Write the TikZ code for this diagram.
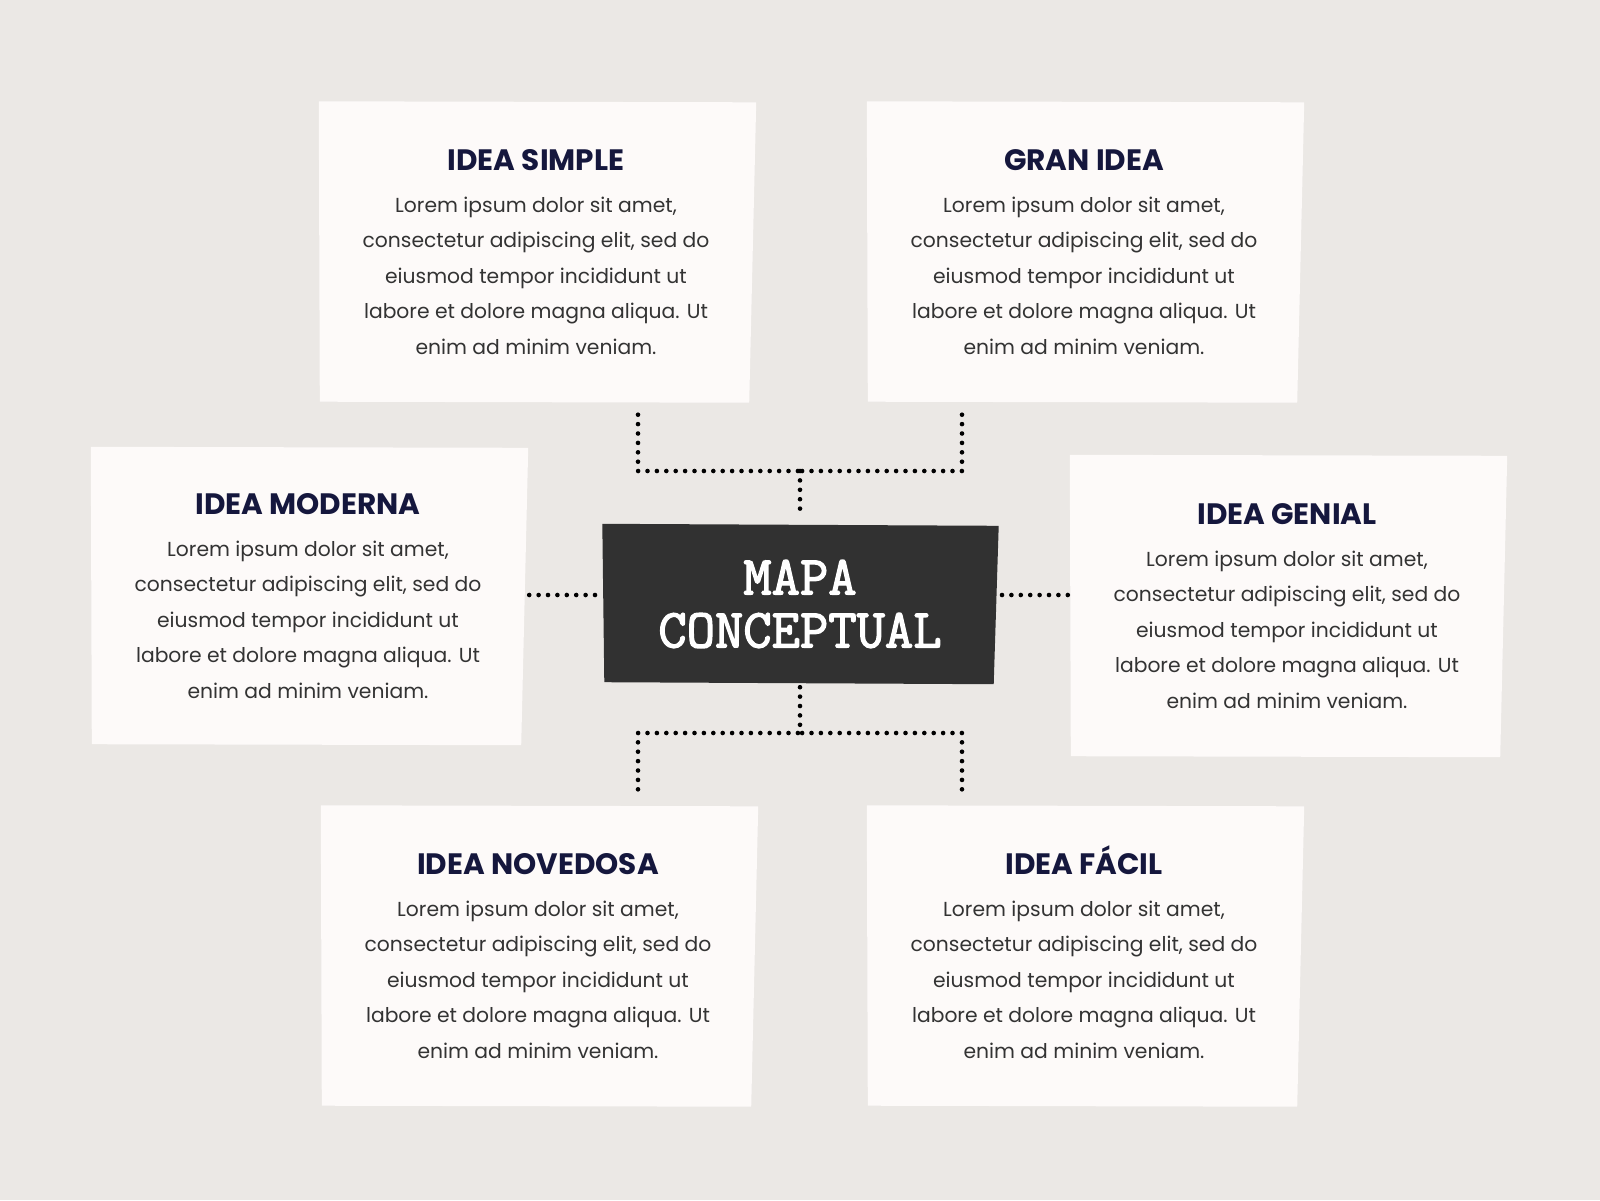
\documentclass[tikz,border=0pt]{standalone}
\usepackage{fontspec}
\setmainfont{Poppins}
\newfontfamily\headfont{Poppins}
\newfontfamily\typefont[FakeBold=2.4]{Latin Modern Mono}
\usetikzlibrary{calc,backgrounds}

\definecolor{bgcol}{HTML}{EBE8E5}
\definecolor{cardcol}{HTML}{FDFAF9}
\definecolor{inkcol}{HTML}{15173D}
\definecolor{textcol}{HTML}{333333}
\definecolor{mapcol}{HTML}{313131}

\newcommand{\lorem}{Lorem ipsum dolor sit amet,\\consectetur adipiscing elit, sed do\\eiusmod tempor incididunt ut\\labore et dolore magna aliqua. Ut\\enim ad minim veniam.}
\newcommand{\cardtitle}[1]{{\headfont\bfseries\fontsize{29.5}{30}\selectfont\color{inkcol}\smash{#1}\vphantom{I}}\\[6pt]}

\begin{document}
\begin{tikzpicture}[x=1pt,y=-1pt]
            \tikzstyle{card}=[inner sep=0,minimum width=434,minimum height=301,align=center,text=textcol,font={\fontsize{20.3}{35.5}\selectfont}];
            \tikzstyle{dotline}=[line width=4.6pt,line cap=round,dash pattern=on 0pt off 9.4pt,color=black];
            \useasboundingbox (0,0) rectangle (1600,1200);
            % ideas
            \node[card] (simple) at (536,252) {\cardtitle{IDEA SIMPLE}\lorem};
            \node[card] (gran) at (1084,252) {\cardtitle{GRAN IDEA}\lorem};
            \node[card,minimum height=298] (moderna) at (308,596) {\cardtitle{IDEA MODERNA}\lorem};
            \node[card,minimum height=302] (genial) at (1287,606) {\cardtitle{IDEA GENIAL}\lorem};
            \node[card] (novedosa) at (538,956) {\cardtitle{IDEA NOVEDOSA}\lorem};
            \node[card] (facil) at (1084,956) {\cardtitle{IDEA FÁCIL}\lorem};
            % centre
            \node[inner sep=0,minimum width=397,minimum height=160,align=center,text=white,font={\typefont\fontsize{55}{53}\selectfont}] (mapa) at (800,604) {MAPA\\CONCEPTUAL};
            % rough paper shapes
            \begin{scope}[on background layer]
            \fill[bgcol] (0,0) rectangle (1600,1200);
            \foreach \n in {simple,gran,moderna,genial,novedosa,facil}
                \fill[cardcol] (\n.north west) -- ([shift={(3,1)}]\n.north east) -- ([shift={(-4,0)}]\n.south east) -- ([shift={(1,-1)}]\n.south west) -- cycle;
            \fill[mapcol] ([shift={(1,0)}]mapa.north west) -- ([shift={(0,2)}]mapa.north east) -- ([shift={(-5,0)}]mapa.south east) -- ([shift={(3,-2)}]mapa.south west) -- cycle;
            \end{scope}
            % junctions
            \coordinate (tl) at (638,471);
            \coordinate (tm) at (800,471);
            \coordinate (tr) at (962,471);
            \coordinate (bl) at (638,733);
            \coordinate (bm) at (800,733);
            \coordinate (br) at (962,733);
            \coordinate (hl) at (800,595);
            \draw[dotline] ([yshift=-12pt]simple.south -| tl) -- (tl) -- (tm);
            \draw[dotline] ([yshift=-12pt]gran.south -| tr) -- (tr) -- (tm);
            \draw[dotline] (tm) -- ([yshift=8pt]mapa.north);
            \draw[dotline] ([yshift=-3pt]mapa.south) -- (bm);
            \draw[dotline] ([yshift=16pt]novedosa.north -| bl) -- (bl) -- (bm);
            \draw[dotline] ([yshift=16pt]facil.north -| br) -- (br) -- (bm);
            \draw[dotline] ([xshift=4pt]moderna.east |- hl) -- ([xshift=-3pt]mapa.west |- hl);
            \draw[dotline] ([xshift=-2pt]genial.west |- hl) -- ([xshift=2pt]mapa.east |- hl);
\end{tikzpicture}
\end{document}
